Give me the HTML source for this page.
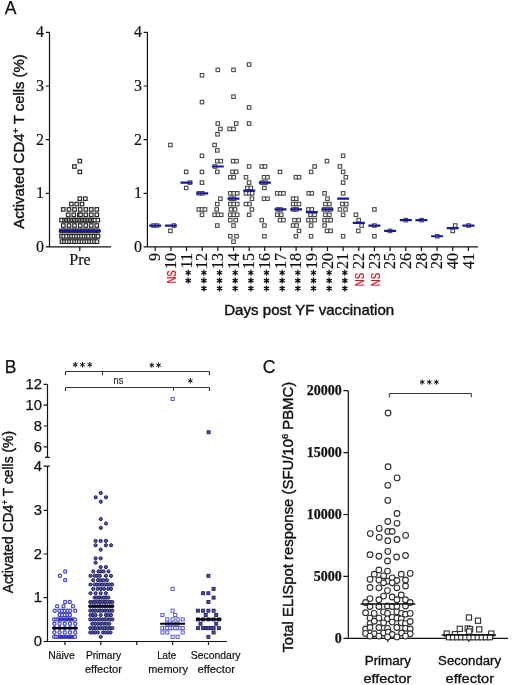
<!DOCTYPE html>
<html><head><meta charset="utf-8"><style>
html,body{margin:0;padding:0;background:#fff;}
svg{display:block;will-change:transform;}
text{font-family:"Liberation Sans",sans-serif;fill:#111;stroke:#111;stroke-width:0.25;}
.tA{font-family:"Liberation Serif",serif;font-size:16px;fill:#111;stroke:#111;stroke-width:0.2;}
.tB{font-size:14.8px;fill:#111;}
.tC{font-family:"Liberation Serif",serif;font-weight:bold;font-size:14px;fill:#111;}
.pl{font-size:17.5px;}
.lab{font-size:14.5px;stroke-width:0.4;}
.catB{font-size:10.9px;fill:#111;stroke-width:0.2;}
.catC{font-size:13.6px;fill:#111;stroke-width:0.35;}
.ns{font-size:12.6px;fill:#d81e24;stroke:#d81e24;stroke-width:0.35;}
.nsb{font-size:11px;fill:#222;stroke-width:0.15;}
.ax{fill:none;stroke:#111;stroke-width:1.2;}
.br{fill:none;stroke:#333;stroke-width:1.0;}
.st{fill:none;stroke:#111;stroke-width:1.3;}
.st2{fill:none;stroke:#111;stroke-width:1.0;}
.sl{fill:#fff;stroke:#2a2a2a;stroke-width:1.2;}
.sr{fill:#fff;stroke:#484848;stroke-width:1.1;}
.mb{fill:none;stroke:#18189a;stroke-width:2.2;}
.mk{fill:none;stroke:#000;stroke-width:2.1;}
.mc{fill:none;stroke:#111;stroke-width:1.5;}
.cn{fill:#fff;stroke:#4040c8;stroke-width:1.2;}
.cp{fill:#5656b6;stroke:#1e1e58;stroke-width:1.0;}
.sn{fill:#fff;stroke:#5a5ad0;stroke-width:1.0;}
.sp{fill:#5050b4;stroke:#1e1e5c;stroke-width:0.9;}
.cc{fill:#fff;stroke:#2e2e2e;stroke-width:1.1;}
.sc{fill:#fff;stroke:#2e2e2e;stroke-width:1.1;}
</style></head>
<body><svg width="512" height="685" viewBox="0 0 512 685">
<path d="M49.5 32.3V247M45.8 32.3H49.5M45.8 86H49.5M45.8 139.6H49.5M45.8 193.3H49.5M45.8 246.9H111M79.8 247V251" class="ax"/>
<text x="44" y="37.1" class="tA" text-anchor="end">4</text>
<text x="44" y="90.8" class="tA" text-anchor="end">3</text>
<text x="44" y="144.5" class="tA" text-anchor="end">2</text>
<text x="44" y="198.1" class="tA" text-anchor="end">1</text>
<text x="44" y="251.8" class="tA" text-anchor="end">0</text>
<text x="80" y="265.3" class="tA" text-anchor="middle">Pre</text>
<rect x="78.05" y="159.38" width="3.50" height="3.50" class="sl"/>
<rect x="72.65" y="164.75" width="3.50" height="3.50" class="sl"/>
<rect x="78.05" y="170.11" width="3.50" height="3.50" class="sl"/>
<rect x="78.05" y="196.95" width="3.50" height="3.50" class="sl"/>
<rect x="83.55" y="196.95" width="3.50" height="3.50" class="sl"/>
<rect x="69.55" y="202.31" width="3.50" height="3.50" class="sl"/>
<rect x="74.95" y="202.31" width="3.50" height="3.50" class="sl"/>
<rect x="80.25" y="202.31" width="3.50" height="3.50" class="sl"/>
<rect x="61.55" y="207.68" width="3.50" height="3.50" class="sl"/>
<rect x="67.25" y="207.68" width="3.50" height="3.50" class="sl"/>
<rect x="72.75" y="207.68" width="3.50" height="3.50" class="sl"/>
<rect x="78.45" y="207.68" width="3.50" height="3.50" class="sl"/>
<rect x="84.05" y="207.68" width="3.50" height="3.50" class="sl"/>
<rect x="89.55" y="207.68" width="3.50" height="3.50" class="sl"/>
<rect x="95.05" y="207.68" width="3.50" height="3.50" class="sl"/>
<rect x="66.45" y="213.05" width="3.50" height="3.50" class="sl"/>
<rect x="72.00" y="213.05" width="3.50" height="3.50" class="sl"/>
<rect x="77.65" y="213.05" width="3.50" height="3.50" class="sl"/>
<rect x="78.75" y="213.05" width="3.50" height="3.50" class="sl"/>
<rect x="84.05" y="213.05" width="3.50" height="3.50" class="sl"/>
<rect x="89.55" y="213.05" width="3.50" height="3.50" class="sl"/>
<rect x="95.05" y="213.05" width="3.50" height="3.50" class="sl"/>
<rect x="59.75" y="218.41" width="3.50" height="3.50" class="sl"/>
<rect x="62.75" y="218.41" width="3.50" height="3.50" class="sl"/>
<rect x="64.35" y="218.41" width="3.50" height="3.50" class="sl"/>
<rect x="65.95" y="218.41" width="3.50" height="3.50" class="sl"/>
<rect x="67.55" y="218.41" width="3.50" height="3.50" class="sl"/>
<rect x="69.15" y="218.41" width="3.50" height="3.50" class="sl"/>
<rect x="70.75" y="218.41" width="3.50" height="3.50" class="sl"/>
<rect x="72.35" y="218.41" width="3.50" height="3.50" class="sl"/>
<rect x="73.95" y="218.41" width="3.50" height="3.50" class="sl"/>
<rect x="75.55" y="218.41" width="3.50" height="3.50" class="sl"/>
<rect x="77.15" y="218.41" width="3.50" height="3.50" class="sl"/>
<rect x="78.75" y="218.41" width="3.50" height="3.50" class="sl"/>
<rect x="80.35" y="218.41" width="3.50" height="3.50" class="sl"/>
<rect x="81.95" y="218.41" width="3.50" height="3.50" class="sl"/>
<rect x="83.55" y="218.41" width="3.50" height="3.50" class="sl"/>
<rect x="85.15" y="218.41" width="3.50" height="3.50" class="sl"/>
<rect x="86.75" y="218.41" width="3.50" height="3.50" class="sl"/>
<rect x="88.35" y="218.41" width="3.50" height="3.50" class="sl"/>
<rect x="89.95" y="218.41" width="3.50" height="3.50" class="sl"/>
<rect x="91.55" y="218.41" width="3.50" height="3.50" class="sl"/>
<rect x="93.15" y="218.41" width="3.50" height="3.50" class="sl"/>
<rect x="96.05" y="218.41" width="3.50" height="3.50" class="sl"/>
<rect x="61.55" y="223.78" width="3.50" height="3.50" class="sl"/>
<rect x="67.25" y="223.78" width="3.50" height="3.50" class="sl"/>
<rect x="72.75" y="223.78" width="3.50" height="3.50" class="sl"/>
<rect x="78.45" y="223.78" width="3.50" height="3.50" class="sl"/>
<rect x="84.05" y="223.78" width="3.50" height="3.50" class="sl"/>
<rect x="89.55" y="223.78" width="3.50" height="3.50" class="sl"/>
<rect x="95.05" y="223.78" width="3.50" height="3.50" class="sl"/>
<rect x="59.75" y="229.15" width="3.50" height="3.50" class="sl"/>
<rect x="62.35" y="229.15" width="3.50" height="3.50" class="sl"/>
<rect x="64.95" y="229.15" width="3.50" height="3.50" class="sl"/>
<rect x="67.55" y="229.15" width="3.50" height="3.50" class="sl"/>
<rect x="70.15" y="229.15" width="3.50" height="3.50" class="sl"/>
<rect x="72.75" y="229.15" width="3.50" height="3.50" class="sl"/>
<rect x="75.35" y="229.15" width="3.50" height="3.50" class="sl"/>
<rect x="77.95" y="229.15" width="3.50" height="3.50" class="sl"/>
<rect x="80.55" y="229.15" width="3.50" height="3.50" class="sl"/>
<rect x="83.15" y="229.15" width="3.50" height="3.50" class="sl"/>
<rect x="85.75" y="229.15" width="3.50" height="3.50" class="sl"/>
<rect x="88.35" y="229.15" width="3.50" height="3.50" class="sl"/>
<rect x="90.95" y="229.15" width="3.50" height="3.50" class="sl"/>
<rect x="93.55" y="229.15" width="3.50" height="3.50" class="sl"/>
<rect x="96.15" y="229.15" width="3.50" height="3.50" class="sl"/>
<rect x="59.75" y="234.52" width="3.50" height="3.50" class="sl"/>
<rect x="62.05" y="234.52" width="3.50" height="3.50" class="sl"/>
<rect x="64.75" y="234.52" width="3.50" height="3.50" class="sl"/>
<rect x="67.75" y="234.52" width="3.50" height="3.50" class="sl"/>
<rect x="69.75" y="234.52" width="3.50" height="3.50" class="sl"/>
<rect x="72.25" y="234.52" width="3.50" height="3.50" class="sl"/>
<rect x="74.75" y="234.52" width="3.50" height="3.50" class="sl"/>
<rect x="77.25" y="234.52" width="3.50" height="3.50" class="sl"/>
<rect x="79.75" y="234.52" width="3.50" height="3.50" class="sl"/>
<rect x="82.25" y="234.52" width="3.50" height="3.50" class="sl"/>
<rect x="84.75" y="234.52" width="3.50" height="3.50" class="sl"/>
<rect x="86.75" y="234.52" width="3.50" height="3.50" class="sl"/>
<rect x="89.75" y="234.52" width="3.50" height="3.50" class="sl"/>
<rect x="92.25" y="234.52" width="3.50" height="3.50" class="sl"/>
<rect x="94.75" y="234.52" width="3.50" height="3.50" class="sl"/>
<rect x="96.25" y="234.52" width="3.50" height="3.50" class="sl"/>
<rect x="60.25" y="239.88" width="3.50" height="3.50" class="sl"/>
<rect x="62.75" y="239.88" width="3.50" height="3.50" class="sl"/>
<rect x="65.25" y="239.88" width="3.50" height="3.50" class="sl"/>
<rect x="67.75" y="239.88" width="3.50" height="3.50" class="sl"/>
<rect x="70.25" y="239.88" width="3.50" height="3.50" class="sl"/>
<rect x="72.75" y="239.88" width="3.50" height="3.50" class="sl"/>
<rect x="75.25" y="239.88" width="3.50" height="3.50" class="sl"/>
<rect x="77.75" y="239.88" width="3.50" height="3.50" class="sl"/>
<rect x="80.25" y="239.88" width="3.50" height="3.50" class="sl"/>
<rect x="82.75" y="239.88" width="3.50" height="3.50" class="sl"/>
<rect x="85.25" y="239.88" width="3.50" height="3.50" class="sl"/>
<rect x="87.75" y="239.88" width="3.50" height="3.50" class="sl"/>
<rect x="90.25" y="239.88" width="3.50" height="3.50" class="sl"/>
<rect x="92.75" y="239.88" width="3.50" height="3.50" class="sl"/>
<rect x="95.25" y="239.88" width="3.50" height="3.50" class="sl"/>
<path d="M58.8 230.90H100.9" class="mb"/>
<path d="M147.4 32.3V247M143.6 32.3H147.4M143.6 86H147.4M143.6 139.6H147.4M143.6 193.3H147.4M143.6 246.9H478M155.2 247V251M170.9 247V251M186.5 247V251M202.2 247V251M217.8 247V251M233.5 247V251M249.2 247V251M264.8 247V251M280.5 247V251M296.1 247V251M311.8 247V251M327.5 247V251M343.1 247V251M358.8 247V251M374.4 247V251M390.1 247V251M405.8 247V251M421.4 247V251M437.1 247V251M452.7 247V251M468.4 247V251" class="ax"/>
<text x="142" y="37.1" class="tA" text-anchor="end">4</text>
<text x="142" y="90.8" class="tA" text-anchor="end">3</text>
<text x="142" y="144.5" class="tA" text-anchor="end">2</text>
<text x="142" y="198.1" class="tA" text-anchor="end">1</text>
<text x="142" y="251.8" class="tA" text-anchor="end">0</text>
<text transform="translate(160.4 253) rotate(-90)" class="tA" text-anchor="end">9</text>
<text transform="translate(176.1 253) rotate(-90)" class="tA" text-anchor="end">10</text>
<text transform="translate(191.7 253) rotate(-90)" class="tA" text-anchor="end">11</text>
<text transform="translate(207.4 253) rotate(-90)" class="tA" text-anchor="end">12</text>
<text transform="translate(223.0 253) rotate(-90)" class="tA" text-anchor="end">13</text>
<text transform="translate(238.7 253) rotate(-90)" class="tA" text-anchor="end">14</text>
<text transform="translate(254.4 253) rotate(-90)" class="tA" text-anchor="end">15</text>
<text transform="translate(270.0 253) rotate(-90)" class="tA" text-anchor="end">16</text>
<text transform="translate(285.7 253) rotate(-90)" class="tA" text-anchor="end">17</text>
<text transform="translate(301.3 253) rotate(-90)" class="tA" text-anchor="end">18</text>
<text transform="translate(317.0 253) rotate(-90)" class="tA" text-anchor="end">19</text>
<text transform="translate(332.7 253) rotate(-90)" class="tA" text-anchor="end">20</text>
<text transform="translate(348.3 253) rotate(-90)" class="tA" text-anchor="end">21</text>
<text transform="translate(364.0 253) rotate(-90)" class="tA" text-anchor="end">22</text>
<text transform="translate(379.6 253) rotate(-90)" class="tA" text-anchor="end">23</text>
<text transform="translate(395.3 253) rotate(-90)" class="tA" text-anchor="end">25</text>
<text transform="translate(411.0 253) rotate(-90)" class="tA" text-anchor="end">26</text>
<text transform="translate(426.6 253) rotate(-90)" class="tA" text-anchor="end">28</text>
<text transform="translate(442.3 253) rotate(-90)" class="tA" text-anchor="end">29</text>
<text transform="translate(457.9 253) rotate(-90)" class="tA" text-anchor="end">40</text>
<text transform="translate(473.6 253) rotate(-90)" class="tA" text-anchor="end">41</text>
<text transform="translate(176.2 283.6) rotate(-90)" class="ns" textLength="13.4" lengthAdjust="spacingAndGlyphs">NS</text>
<text transform="translate(364.1 286.2) rotate(-90)" class="ns" textLength="13.4" lengthAdjust="spacingAndGlyphs">NS</text>
<text transform="translate(379.7 286.2) rotate(-90)" class="ns" textLength="13.4" lengthAdjust="spacingAndGlyphs">NS</text>
<path d="M188.22 269.80L188.22 275.80M185.62 271.30L190.82 274.30M190.82 271.30L185.62 274.30M188.22 277.60L188.22 283.60M185.62 279.10L190.82 282.10M190.82 279.10L185.62 282.10M203.88 269.80L203.88 275.80M201.28 271.30L206.48 274.30M206.48 271.30L201.28 274.30M203.88 277.60L203.88 283.60M201.28 279.10L206.48 282.10M206.48 279.10L201.28 282.10M203.88 285.40L203.88 291.40M201.28 286.90L206.48 289.90M206.48 286.90L201.28 289.90M219.54 269.80L219.54 275.80M216.94 271.30L222.14 274.30M222.14 271.30L216.94 274.30M219.54 277.60L219.54 283.60M216.94 279.10L222.14 282.10M222.14 279.10L216.94 282.10M219.54 285.40L219.54 291.40M216.94 286.90L222.14 289.90M222.14 286.90L216.94 289.90M235.20 269.80L235.20 275.80M232.60 271.30L237.80 274.30M237.80 271.30L232.60 274.30M235.20 277.60L235.20 283.60M232.60 279.10L237.80 282.10M237.80 279.10L232.60 282.10M235.20 285.40L235.20 291.40M232.60 286.90L237.80 289.90M237.80 286.90L232.60 289.90M250.86 269.80L250.86 275.80M248.26 271.30L253.46 274.30M253.46 271.30L248.26 274.30M250.86 277.60L250.86 283.60M248.26 279.10L253.46 282.10M253.46 279.10L248.26 282.10M250.86 285.40L250.86 291.40M248.26 286.90L253.46 289.90M253.46 286.90L248.26 289.90M266.52 269.80L266.52 275.80M263.92 271.30L269.12 274.30M269.12 271.30L263.92 274.30M266.52 277.60L266.52 283.60M263.92 279.10L269.12 282.10M269.12 279.10L263.92 282.10M266.52 285.40L266.52 291.40M263.92 286.90L269.12 289.90M269.12 286.90L263.92 289.90M282.18 269.80L282.18 275.80M279.58 271.30L284.78 274.30M284.78 271.30L279.58 274.30M282.18 277.60L282.18 283.60M279.58 279.10L284.78 282.10M284.78 279.10L279.58 282.10M282.18 285.40L282.18 291.40M279.58 286.90L284.78 289.90M284.78 286.90L279.58 289.90M297.84 269.80L297.84 275.80M295.24 271.30L300.44 274.30M300.44 271.30L295.24 274.30M297.84 277.60L297.84 283.60M295.24 279.10L300.44 282.10M300.44 279.10L295.24 282.10M297.84 285.40L297.84 291.40M295.24 286.90L300.44 289.90M300.44 286.90L295.24 289.90M313.50 269.80L313.50 275.80M310.90 271.30L316.10 274.30M316.10 271.30L310.90 274.30M313.50 277.60L313.50 283.60M310.90 279.10L316.10 282.10M316.10 279.10L310.90 282.10M313.50 285.40L313.50 291.40M310.90 286.90L316.10 289.90M316.10 286.90L310.90 289.90M329.16 269.80L329.16 275.80M326.56 271.30L331.76 274.30M331.76 271.30L326.56 274.30M329.16 277.60L329.16 283.60M326.56 279.10L331.76 282.10M331.76 279.10L326.56 282.10M329.16 285.40L329.16 291.40M326.56 286.90L331.76 289.90M331.76 286.90L326.56 289.90M344.82 269.80L344.82 275.80M342.22 271.30L347.42 274.30M347.42 271.30L342.22 274.30M344.82 277.60L344.82 283.60M342.22 279.10L347.42 282.10M347.42 279.10L342.22 282.10M344.82 285.40L344.82 291.40M342.22 286.90L347.42 289.90M347.42 286.90L342.22 289.90" class="st"/>
<rect x="151.75" y="223.78" width="3.50" height="3.50" class="sr"/>
<rect x="155.25" y="223.78" width="3.50" height="3.50" class="sr"/>
<rect x="168.65" y="143.28" width="3.50" height="3.50" class="sr"/>
<rect x="172.15" y="223.78" width="3.50" height="3.50" class="sr"/>
<rect x="168.65" y="229.15" width="3.50" height="3.50" class="sr"/>
<rect x="184.45" y="170.11" width="3.50" height="3.50" class="sr"/>
<rect x="188.25" y="180.85" width="3.50" height="3.50" class="sr"/>
<rect x="184.45" y="186.21" width="3.50" height="3.50" class="sr"/>
<rect x="200.25" y="73.51" width="3.50" height="3.50" class="sr"/>
<rect x="200.25" y="100.34" width="3.50" height="3.50" class="sr"/>
<rect x="200.25" y="154.01" width="3.50" height="3.50" class="sr"/>
<rect x="200.25" y="170.11" width="3.50" height="3.50" class="sr"/>
<rect x="200.25" y="180.85" width="3.50" height="3.50" class="sr"/>
<rect x="197.15" y="191.58" width="3.50" height="3.50" class="sr"/>
<rect x="200.55" y="191.58" width="3.50" height="3.50" class="sr"/>
<rect x="197.15" y="207.68" width="3.50" height="3.50" class="sr"/>
<rect x="200.25" y="207.68" width="3.50" height="3.50" class="sr"/>
<rect x="203.25" y="207.68" width="3.50" height="3.50" class="sr"/>
<rect x="200.25" y="213.05" width="3.50" height="3.50" class="sr"/>
<rect x="216.05" y="68.14" width="3.50" height="3.50" class="sr"/>
<rect x="216.05" y="121.81" width="3.50" height="3.50" class="sr"/>
<rect x="218.65" y="127.18" width="3.50" height="3.50" class="sr"/>
<rect x="215.75" y="132.54" width="3.50" height="3.50" class="sr"/>
<rect x="212.85" y="143.28" width="3.50" height="3.50" class="sr"/>
<rect x="215.55" y="148.64" width="3.50" height="3.50" class="sr"/>
<rect x="215.55" y="159.38" width="3.50" height="3.50" class="sr"/>
<rect x="219.05" y="159.38" width="3.50" height="3.50" class="sr"/>
<rect x="213.25" y="164.75" width="3.50" height="3.50" class="sr"/>
<rect x="215.55" y="170.11" width="3.50" height="3.50" class="sr"/>
<rect x="218.65" y="196.95" width="3.50" height="3.50" class="sr"/>
<rect x="215.55" y="202.31" width="3.50" height="3.50" class="sr"/>
<rect x="214.95" y="207.68" width="3.50" height="3.50" class="sr"/>
<rect x="212.85" y="213.05" width="3.50" height="3.50" class="sr"/>
<rect x="216.25" y="213.05" width="3.50" height="3.50" class="sr"/>
<rect x="219.45" y="213.05" width="3.50" height="3.50" class="sr"/>
<rect x="215.55" y="223.78" width="3.50" height="3.50" class="sr"/>
<rect x="231.75" y="68.14" width="3.50" height="3.50" class="sr"/>
<rect x="231.75" y="94.97" width="3.50" height="3.50" class="sr"/>
<rect x="234.45" y="121.81" width="3.50" height="3.50" class="sr"/>
<rect x="227.85" y="127.18" width="3.50" height="3.50" class="sr"/>
<rect x="231.75" y="127.18" width="3.50" height="3.50" class="sr"/>
<rect x="231.35" y="159.38" width="3.50" height="3.50" class="sr"/>
<rect x="234.75" y="159.38" width="3.50" height="3.50" class="sr"/>
<rect x="230.65" y="170.11" width="3.50" height="3.50" class="sr"/>
<rect x="234.45" y="170.11" width="3.50" height="3.50" class="sr"/>
<rect x="228.55" y="175.48" width="3.50" height="3.50" class="sr"/>
<rect x="232.00" y="175.48" width="3.50" height="3.50" class="sr"/>
<rect x="228.55" y="191.58" width="3.50" height="3.50" class="sr"/>
<rect x="232.00" y="191.58" width="3.50" height="3.50" class="sr"/>
<rect x="235.45" y="191.58" width="3.50" height="3.50" class="sr"/>
<rect x="229.25" y="196.95" width="3.50" height="3.50" class="sr"/>
<rect x="232.25" y="196.95" width="3.50" height="3.50" class="sr"/>
<rect x="228.55" y="202.31" width="3.50" height="3.50" class="sr"/>
<rect x="232.00" y="202.31" width="3.50" height="3.50" class="sr"/>
<rect x="235.45" y="202.31" width="3.50" height="3.50" class="sr"/>
<rect x="229.25" y="207.68" width="3.50" height="3.50" class="sr"/>
<rect x="233.35" y="207.68" width="3.50" height="3.50" class="sr"/>
<rect x="228.55" y="213.05" width="3.50" height="3.50" class="sr"/>
<rect x="232.00" y="213.05" width="3.50" height="3.50" class="sr"/>
<rect x="235.45" y="213.05" width="3.50" height="3.50" class="sr"/>
<rect x="228.55" y="218.41" width="3.50" height="3.50" class="sr"/>
<rect x="234.05" y="218.41" width="3.50" height="3.50" class="sr"/>
<rect x="231.75" y="223.78" width="3.50" height="3.50" class="sr"/>
<rect x="228.55" y="234.52" width="3.50" height="3.50" class="sr"/>
<rect x="234.75" y="234.52" width="3.50" height="3.50" class="sr"/>
<rect x="231.75" y="239.88" width="3.50" height="3.50" class="sr"/>
<rect x="247.35" y="62.77" width="3.50" height="3.50" class="sr"/>
<rect x="247.35" y="105.71" width="3.50" height="3.50" class="sr"/>
<rect x="247.35" y="121.81" width="3.50" height="3.50" class="sr"/>
<rect x="247.35" y="164.75" width="3.50" height="3.50" class="sr"/>
<rect x="244.25" y="175.48" width="3.50" height="3.50" class="sr"/>
<rect x="247.35" y="180.85" width="3.50" height="3.50" class="sr"/>
<rect x="245.65" y="186.21" width="3.50" height="3.50" class="sr"/>
<rect x="249.05" y="186.21" width="3.50" height="3.50" class="sr"/>
<rect x="244.25" y="191.58" width="3.50" height="3.50" class="sr"/>
<rect x="247.75" y="191.58" width="3.50" height="3.50" class="sr"/>
<rect x="250.45" y="191.58" width="3.50" height="3.50" class="sr"/>
<rect x="250.15" y="196.95" width="3.50" height="3.50" class="sr"/>
<rect x="244.25" y="202.31" width="3.50" height="3.50" class="sr"/>
<rect x="247.75" y="202.31" width="3.50" height="3.50" class="sr"/>
<rect x="250.05" y="207.68" width="3.50" height="3.50" class="sr"/>
<rect x="247.35" y="213.05" width="3.50" height="3.50" class="sr"/>
<rect x="259.95" y="164.75" width="3.50" height="3.50" class="sr"/>
<rect x="263.25" y="164.75" width="3.50" height="3.50" class="sr"/>
<rect x="262.25" y="175.48" width="3.50" height="3.50" class="sr"/>
<rect x="265.75" y="175.48" width="3.50" height="3.50" class="sr"/>
<rect x="260.25" y="180.85" width="3.50" height="3.50" class="sr"/>
<rect x="263.75" y="180.85" width="3.50" height="3.50" class="sr"/>
<rect x="262.65" y="186.21" width="3.50" height="3.50" class="sr"/>
<rect x="262.25" y="196.95" width="3.50" height="3.50" class="sr"/>
<rect x="265.75" y="196.95" width="3.50" height="3.50" class="sr"/>
<rect x="259.95" y="218.41" width="3.50" height="3.50" class="sr"/>
<rect x="262.65" y="223.78" width="3.50" height="3.50" class="sr"/>
<rect x="262.65" y="234.52" width="3.50" height="3.50" class="sr"/>
<rect x="278.25" y="170.11" width="3.50" height="3.50" class="sr"/>
<rect x="275.45" y="191.58" width="3.50" height="3.50" class="sr"/>
<rect x="278.65" y="191.58" width="3.50" height="3.50" class="sr"/>
<rect x="281.65" y="191.58" width="3.50" height="3.50" class="sr"/>
<rect x="276.15" y="207.68" width="3.50" height="3.50" class="sr"/>
<rect x="278.85" y="207.68" width="3.50" height="3.50" class="sr"/>
<rect x="275.45" y="213.05" width="3.50" height="3.50" class="sr"/>
<rect x="279.55" y="213.05" width="3.50" height="3.50" class="sr"/>
<rect x="278.25" y="218.41" width="3.50" height="3.50" class="sr"/>
<rect x="281.65" y="218.41" width="3.50" height="3.50" class="sr"/>
<rect x="294.15" y="175.48" width="3.50" height="3.50" class="sr"/>
<rect x="297.25" y="175.48" width="3.50" height="3.50" class="sr"/>
<rect x="291.35" y="196.95" width="3.50" height="3.50" class="sr"/>
<rect x="294.55" y="196.95" width="3.50" height="3.50" class="sr"/>
<rect x="291.35" y="202.31" width="3.50" height="3.50" class="sr"/>
<rect x="294.55" y="202.31" width="3.50" height="3.50" class="sr"/>
<rect x="297.25" y="202.31" width="3.50" height="3.50" class="sr"/>
<rect x="291.75" y="207.68" width="3.50" height="3.50" class="sr"/>
<rect x="294.75" y="207.68" width="3.50" height="3.50" class="sr"/>
<rect x="292.75" y="218.41" width="3.50" height="3.50" class="sr"/>
<rect x="296.95" y="218.41" width="3.50" height="3.50" class="sr"/>
<rect x="291.35" y="223.78" width="3.50" height="3.50" class="sr"/>
<rect x="294.85" y="223.78" width="3.50" height="3.50" class="sr"/>
<rect x="297.25" y="229.15" width="3.50" height="3.50" class="sr"/>
<rect x="294.15" y="234.52" width="3.50" height="3.50" class="sr"/>
<rect x="312.85" y="164.75" width="3.50" height="3.50" class="sr"/>
<rect x="309.35" y="170.11" width="3.50" height="3.50" class="sr"/>
<rect x="307.05" y="191.58" width="3.50" height="3.50" class="sr"/>
<rect x="310.05" y="191.58" width="3.50" height="3.50" class="sr"/>
<rect x="306.65" y="207.68" width="3.50" height="3.50" class="sr"/>
<rect x="310.05" y="207.68" width="3.50" height="3.50" class="sr"/>
<rect x="308.65" y="213.05" width="3.50" height="3.50" class="sr"/>
<rect x="312.85" y="213.05" width="3.50" height="3.50" class="sr"/>
<rect x="306.65" y="218.41" width="3.50" height="3.50" class="sr"/>
<rect x="309.75" y="218.41" width="3.50" height="3.50" class="sr"/>
<rect x="312.85" y="218.41" width="3.50" height="3.50" class="sr"/>
<rect x="309.35" y="223.78" width="3.50" height="3.50" class="sr"/>
<rect x="309.35" y="234.52" width="3.50" height="3.50" class="sr"/>
<rect x="325.25" y="159.38" width="3.50" height="3.50" class="sr"/>
<rect x="322.85" y="191.58" width="3.50" height="3.50" class="sr"/>
<rect x="325.75" y="196.95" width="3.50" height="3.50" class="sr"/>
<rect x="323.65" y="202.31" width="3.50" height="3.50" class="sr"/>
<rect x="327.65" y="202.31" width="3.50" height="3.50" class="sr"/>
<rect x="322.25" y="207.68" width="3.50" height="3.50" class="sr"/>
<rect x="325.75" y="207.68" width="3.50" height="3.50" class="sr"/>
<rect x="328.75" y="207.68" width="3.50" height="3.50" class="sr"/>
<rect x="323.65" y="213.05" width="3.50" height="3.50" class="sr"/>
<rect x="327.65" y="213.05" width="3.50" height="3.50" class="sr"/>
<rect x="322.85" y="218.41" width="3.50" height="3.50" class="sr"/>
<rect x="326.05" y="218.41" width="3.50" height="3.50" class="sr"/>
<rect x="328.95" y="218.41" width="3.50" height="3.50" class="sr"/>
<rect x="322.85" y="223.78" width="3.50" height="3.50" class="sr"/>
<rect x="325.25" y="229.15" width="3.50" height="3.50" class="sr"/>
<rect x="328.95" y="229.15" width="3.50" height="3.50" class="sr"/>
<rect x="341.35" y="154.01" width="3.50" height="3.50" class="sr"/>
<rect x="338.15" y="164.75" width="3.50" height="3.50" class="sr"/>
<rect x="341.35" y="170.11" width="3.50" height="3.50" class="sr"/>
<rect x="344.05" y="175.48" width="3.50" height="3.50" class="sr"/>
<rect x="341.35" y="180.85" width="3.50" height="3.50" class="sr"/>
<rect x="341.35" y="191.58" width="3.50" height="3.50" class="sr"/>
<rect x="340.55" y="202.31" width="3.50" height="3.50" class="sr"/>
<rect x="344.55" y="202.31" width="3.50" height="3.50" class="sr"/>
<rect x="338.15" y="207.68" width="3.50" height="3.50" class="sr"/>
<rect x="343.75" y="207.68" width="3.50" height="3.50" class="sr"/>
<rect x="341.35" y="213.05" width="3.50" height="3.50" class="sr"/>
<rect x="341.35" y="234.52" width="3.50" height="3.50" class="sr"/>
<rect x="354.15" y="213.05" width="3.50" height="3.50" class="sr"/>
<rect x="356.95" y="218.41" width="3.50" height="3.50" class="sr"/>
<rect x="359.85" y="223.78" width="3.50" height="3.50" class="sr"/>
<rect x="356.55" y="229.15" width="3.50" height="3.50" class="sr"/>
<rect x="372.65" y="207.68" width="3.50" height="3.50" class="sr"/>
<rect x="372.65" y="223.78" width="3.50" height="3.50" class="sr"/>
<rect x="372.65" y="234.52" width="3.50" height="3.50" class="sr"/>
<rect x="388.25" y="229.15" width="3.50" height="3.50" class="sr"/>
<rect x="404.05" y="218.41" width="3.50" height="3.50" class="sr"/>
<rect x="419.75" y="218.41" width="3.50" height="3.50" class="sr"/>
<rect x="435.55" y="234.52" width="3.50" height="3.50" class="sr"/>
<rect x="453.45" y="223.78" width="3.50" height="3.50" class="sr"/>
<rect x="450.95" y="229.15" width="3.50" height="3.50" class="sr"/>
<rect x="466.85" y="223.78" width="3.50" height="3.50" class="sr"/>
<path d="M149.2 225.53H161.2M164.9 225.53H176.9M180.5 182.60H192.5M196.2 193.33H208.2M211.8 166.50H223.8M227.5 198.70H239.5M243.2 190.65H255.2M258.8 182.60H270.8M274.5 209.43H286.5M290.1 209.43H302.1M305.8 212.11H317.8M321.5 209.43H333.5M337.1 198.70H349.1M352.8 222.85H364.8M368.4 225.53H380.4M384.1 230.90H396.1M399.8 220.16H411.8M415.4 220.16H427.4M431.1 236.27H443.1M446.7 228.22H458.7M462.4 225.53H474.4" class="mb"/>
<text x="4.8" y="14.0" class="pl">A</text>
<text x="224.2" y="315.3" class="lab" textLength="170" lengthAdjust="spacingAndGlyphs">Days post YF vaccination</text>
<text transform="translate(24.4 228.8) rotate(-90)" class="lab" textLength="174.6" lengthAdjust="spacingAndGlyphs">Activated CD4<tspan dy="-5" font-size="9">+</tspan><tspan dy="5"> T cells (%)</tspan></text>
<path d="M47.5 384.4V457.4M45 457.4H49.8M47.5 466.2V641.5M43.6 466.2H49.8M43.6 384.4H47.5M43.6 405.2H47.5M43.6 426.0H47.5M43.6 446.9H47.5M43.6 510.4H47.5M43.6 554.0H47.5M43.6 597.6H47.5M43.4 641.5H226.9M65.0 641.2V645M100.8 641.2V645M136.8 641.2V645M172.6 641.2V645M208.5 641.2V645" class="ax"/>
<text x="41.9" y="389.0" class="tB" text-anchor="end">12</text>
<text x="41.9" y="409.8" class="tB" text-anchor="end">10</text>
<text x="41.9" y="430.6" class="tB" text-anchor="end">8</text>
<text x="41.9" y="451.5" class="tB" text-anchor="end">6</text>
<text x="41.9" y="471.4" class="tB" text-anchor="end">4</text>
<text x="41.9" y="515.0" class="tB" text-anchor="end">3</text>
<text x="41.9" y="558.6" class="tB" text-anchor="end">2</text>
<text x="41.9" y="602.2" class="tB" text-anchor="end">1</text>
<text x="41.9" y="645.8" class="tB" text-anchor="end">0</text>
<circle cx="65.20" cy="571.44" r="1.6" class="cn"/>
<circle cx="59.90" cy="575.80" r="1.6" class="cn"/>
<circle cx="65.20" cy="580.16" r="1.6" class="cn"/>
<circle cx="65.10" cy="601.96" r="1.6" class="cn"/>
<circle cx="69.80" cy="601.96" r="1.6" class="cn"/>
<circle cx="57.10" cy="606.32" r="1.6" class="cn"/>
<circle cx="63.50" cy="606.32" r="1.6" class="cn"/>
<circle cx="72.90" cy="606.32" r="1.6" class="cn"/>
<circle cx="54.70" cy="610.68" r="1.6" class="cn"/>
<circle cx="59.40" cy="610.68" r="1.6" class="cn"/>
<circle cx="62.10" cy="610.68" r="1.6" class="cn"/>
<circle cx="64.80" cy="610.68" r="1.6" class="cn"/>
<circle cx="67.50" cy="610.68" r="1.6" class="cn"/>
<circle cx="70.20" cy="610.68" r="1.6" class="cn"/>
<circle cx="75.20" cy="610.68" r="1.6" class="cn"/>
<circle cx="59.70" cy="615.04" r="1.6" class="cn"/>
<circle cx="62.30" cy="615.04" r="1.6" class="cn"/>
<circle cx="64.90" cy="615.04" r="1.6" class="cn"/>
<circle cx="67.40" cy="615.04" r="1.6" class="cn"/>
<circle cx="69.90" cy="615.04" r="1.6" class="cn"/>
<circle cx="54.20" cy="619.40" r="1.6" class="cn"/>
<circle cx="56.28" cy="619.40" r="1.6" class="cn"/>
<circle cx="58.36" cy="619.40" r="1.6" class="cn"/>
<circle cx="60.44" cy="619.40" r="1.6" class="cn"/>
<circle cx="62.52" cy="619.40" r="1.6" class="cn"/>
<circle cx="64.60" cy="619.40" r="1.6" class="cn"/>
<circle cx="66.68" cy="619.40" r="1.6" class="cn"/>
<circle cx="68.76" cy="619.40" r="1.6" class="cn"/>
<circle cx="70.84" cy="619.40" r="1.6" class="cn"/>
<circle cx="72.92" cy="619.40" r="1.6" class="cn"/>
<circle cx="75.00" cy="619.40" r="1.6" class="cn"/>
<circle cx="54.40" cy="623.76" r="1.6" class="cn"/>
<circle cx="59.60" cy="623.76" r="1.6" class="cn"/>
<circle cx="64.80" cy="623.76" r="1.6" class="cn"/>
<circle cx="70.00" cy="623.76" r="1.6" class="cn"/>
<circle cx="75.20" cy="623.76" r="1.6" class="cn"/>
<circle cx="54.40" cy="628.12" r="1.6" class="cn"/>
<circle cx="59.60" cy="628.12" r="1.6" class="cn"/>
<circle cx="64.80" cy="628.12" r="1.6" class="cn"/>
<circle cx="70.00" cy="628.12" r="1.6" class="cn"/>
<circle cx="75.20" cy="628.12" r="1.6" class="cn"/>
<circle cx="54.40" cy="632.48" r="1.6" class="cn"/>
<circle cx="59.60" cy="632.48" r="1.6" class="cn"/>
<circle cx="64.80" cy="632.48" r="1.6" class="cn"/>
<circle cx="70.00" cy="632.48" r="1.6" class="cn"/>
<circle cx="75.20" cy="632.48" r="1.6" class="cn"/>
<circle cx="54.20" cy="636.84" r="1.6" class="cn"/>
<circle cx="56.28" cy="636.84" r="1.6" class="cn"/>
<circle cx="58.36" cy="636.84" r="1.6" class="cn"/>
<circle cx="60.44" cy="636.84" r="1.6" class="cn"/>
<circle cx="62.52" cy="636.84" r="1.6" class="cn"/>
<circle cx="64.60" cy="636.84" r="1.6" class="cn"/>
<circle cx="66.68" cy="636.84" r="1.6" class="cn"/>
<circle cx="68.76" cy="636.84" r="1.6" class="cn"/>
<circle cx="70.84" cy="636.84" r="1.6" class="cn"/>
<circle cx="72.92" cy="636.84" r="1.6" class="cn"/>
<circle cx="75.00" cy="636.84" r="1.6" class="cn"/>
<rect x="58" y="618.10" width="15" height="2.6" fill="#3434c4"/>
<rect x="58" y="635.54" width="15" height="2.6" fill="#3434c4"/>
<circle cx="100.80" cy="492.96" r="1.6" class="cp"/>
<circle cx="95.70" cy="497.32" r="1.6" class="cp"/>
<circle cx="106.00" cy="497.32" r="1.6" class="cp"/>
<circle cx="100.80" cy="501.68" r="1.6" class="cp"/>
<circle cx="100.80" cy="519.12" r="1.6" class="cp"/>
<circle cx="106.00" cy="523.48" r="1.6" class="cp"/>
<circle cx="100.80" cy="527.84" r="1.6" class="cp"/>
<circle cx="95.60" cy="540.92" r="1.6" class="cp"/>
<circle cx="100.70" cy="540.92" r="1.6" class="cp"/>
<circle cx="105.90" cy="540.92" r="1.6" class="cp"/>
<circle cx="95.60" cy="545.28" r="1.6" class="cp"/>
<circle cx="105.90" cy="545.28" r="1.6" class="cp"/>
<circle cx="111.10" cy="545.28" r="1.6" class="cp"/>
<circle cx="100.70" cy="549.64" r="1.6" class="cp"/>
<circle cx="95.60" cy="558.36" r="1.6" class="cp"/>
<circle cx="100.70" cy="558.36" r="1.6" class="cp"/>
<circle cx="95.60" cy="562.72" r="1.6" class="cp"/>
<circle cx="100.70" cy="567.08" r="1.6" class="cp"/>
<circle cx="105.90" cy="567.08" r="1.6" class="cp"/>
<circle cx="93.20" cy="571.44" r="1.6" class="cp"/>
<circle cx="98.50" cy="571.44" r="1.6" class="cp"/>
<circle cx="101.00" cy="571.44" r="1.6" class="cp"/>
<circle cx="103.50" cy="571.44" r="1.6" class="cp"/>
<circle cx="108.50" cy="571.44" r="1.6" class="cp"/>
<circle cx="90.50" cy="575.80" r="1.6" class="cp"/>
<circle cx="94.60" cy="575.80" r="1.6" class="cp"/>
<circle cx="97.20" cy="575.80" r="1.6" class="cp"/>
<circle cx="99.80" cy="575.80" r="1.6" class="cp"/>
<circle cx="105.90" cy="575.80" r="1.6" class="cp"/>
<circle cx="111.00" cy="575.80" r="1.6" class="cp"/>
<circle cx="93.20" cy="580.16" r="1.6" class="cp"/>
<circle cx="98.00" cy="580.16" r="1.6" class="cp"/>
<circle cx="100.70" cy="580.16" r="1.6" class="cp"/>
<circle cx="103.40" cy="580.16" r="1.6" class="cp"/>
<circle cx="106.90" cy="580.16" r="1.6" class="cp"/>
<circle cx="90.50" cy="584.52" r="1.6" class="cp"/>
<circle cx="94.60" cy="584.52" r="1.6" class="cp"/>
<circle cx="97.10" cy="584.52" r="1.6" class="cp"/>
<circle cx="99.60" cy="584.52" r="1.6" class="cp"/>
<circle cx="102.10" cy="584.52" r="1.6" class="cp"/>
<circle cx="104.60" cy="584.52" r="1.6" class="cp"/>
<circle cx="107.10" cy="584.52" r="1.6" class="cp"/>
<circle cx="109.60" cy="584.52" r="1.6" class="cp"/>
<circle cx="112.10" cy="584.52" r="1.6" class="cp"/>
<circle cx="93.20" cy="588.88" r="1.6" class="cp"/>
<circle cx="97.60" cy="588.88" r="1.6" class="cp"/>
<circle cx="100.80" cy="588.88" r="1.6" class="cp"/>
<circle cx="104.00" cy="588.88" r="1.6" class="cp"/>
<circle cx="108.30" cy="588.88" r="1.6" class="cp"/>
<circle cx="111.00" cy="588.88" r="1.6" class="cp"/>
<circle cx="90.50" cy="593.24" r="1.6" class="cp"/>
<circle cx="95.60" cy="593.24" r="1.6" class="cp"/>
<circle cx="100.70" cy="593.24" r="1.6" class="cp"/>
<circle cx="105.90" cy="593.24" r="1.6" class="cp"/>
<circle cx="94.60" cy="597.60" r="1.6" class="cp"/>
<circle cx="96.90" cy="597.60" r="1.6" class="cp"/>
<circle cx="99.20" cy="597.60" r="1.6" class="cp"/>
<circle cx="101.50" cy="597.60" r="1.6" class="cp"/>
<circle cx="103.80" cy="597.60" r="1.6" class="cp"/>
<circle cx="106.10" cy="597.60" r="1.6" class="cp"/>
<circle cx="108.40" cy="597.60" r="1.6" class="cp"/>
<circle cx="90.30" cy="601.96" r="1.6" class="cp"/>
<circle cx="92.75" cy="601.96" r="1.6" class="cp"/>
<circle cx="95.20" cy="601.96" r="1.6" class="cp"/>
<circle cx="97.65" cy="601.96" r="1.6" class="cp"/>
<circle cx="100.10" cy="601.96" r="1.6" class="cp"/>
<circle cx="102.55" cy="601.96" r="1.6" class="cp"/>
<circle cx="105.00" cy="601.96" r="1.6" class="cp"/>
<circle cx="107.45" cy="601.96" r="1.6" class="cp"/>
<circle cx="109.90" cy="601.96" r="1.6" class="cp"/>
<circle cx="112.35" cy="601.96" r="1.6" class="cp"/>
<circle cx="90.30" cy="606.32" r="1.6" class="cp"/>
<circle cx="92.75" cy="606.32" r="1.6" class="cp"/>
<circle cx="95.20" cy="606.32" r="1.6" class="cp"/>
<circle cx="97.65" cy="606.32" r="1.6" class="cp"/>
<circle cx="100.10" cy="606.32" r="1.6" class="cp"/>
<circle cx="102.55" cy="606.32" r="1.6" class="cp"/>
<circle cx="105.00" cy="606.32" r="1.6" class="cp"/>
<circle cx="107.45" cy="606.32" r="1.6" class="cp"/>
<circle cx="109.90" cy="606.32" r="1.6" class="cp"/>
<circle cx="112.35" cy="606.32" r="1.6" class="cp"/>
<circle cx="90.30" cy="610.68" r="1.6" class="cp"/>
<circle cx="92.75" cy="610.68" r="1.6" class="cp"/>
<circle cx="95.20" cy="610.68" r="1.6" class="cp"/>
<circle cx="97.65" cy="610.68" r="1.6" class="cp"/>
<circle cx="100.10" cy="610.68" r="1.6" class="cp"/>
<circle cx="102.55" cy="610.68" r="1.6" class="cp"/>
<circle cx="105.00" cy="610.68" r="1.6" class="cp"/>
<circle cx="107.45" cy="610.68" r="1.6" class="cp"/>
<circle cx="109.90" cy="610.68" r="1.6" class="cp"/>
<circle cx="112.35" cy="610.68" r="1.6" class="cp"/>
<circle cx="90.50" cy="615.04" r="1.6" class="cp"/>
<circle cx="93.00" cy="615.04" r="1.6" class="cp"/>
<circle cx="95.60" cy="615.04" r="1.6" class="cp"/>
<circle cx="100.70" cy="615.04" r="1.6" class="cp"/>
<circle cx="105.90" cy="615.04" r="1.6" class="cp"/>
<circle cx="108.50" cy="615.04" r="1.6" class="cp"/>
<circle cx="111.00" cy="615.04" r="1.6" class="cp"/>
<circle cx="90.30" cy="619.40" r="1.6" class="cp"/>
<circle cx="92.75" cy="619.40" r="1.6" class="cp"/>
<circle cx="95.20" cy="619.40" r="1.6" class="cp"/>
<circle cx="97.65" cy="619.40" r="1.6" class="cp"/>
<circle cx="100.10" cy="619.40" r="1.6" class="cp"/>
<circle cx="102.55" cy="619.40" r="1.6" class="cp"/>
<circle cx="105.00" cy="619.40" r="1.6" class="cp"/>
<circle cx="107.45" cy="619.40" r="1.6" class="cp"/>
<circle cx="109.90" cy="619.40" r="1.6" class="cp"/>
<circle cx="112.35" cy="619.40" r="1.6" class="cp"/>
<circle cx="92.20" cy="623.76" r="1.6" class="cp"/>
<circle cx="95.05" cy="623.76" r="1.6" class="cp"/>
<circle cx="97.90" cy="623.76" r="1.6" class="cp"/>
<circle cx="100.75" cy="623.76" r="1.6" class="cp"/>
<circle cx="103.60" cy="623.76" r="1.6" class="cp"/>
<circle cx="106.45" cy="623.76" r="1.6" class="cp"/>
<circle cx="109.30" cy="623.76" r="1.6" class="cp"/>
<circle cx="90.30" cy="628.12" r="1.6" class="cp"/>
<circle cx="92.75" cy="628.12" r="1.6" class="cp"/>
<circle cx="95.20" cy="628.12" r="1.6" class="cp"/>
<circle cx="97.65" cy="628.12" r="1.6" class="cp"/>
<circle cx="100.10" cy="628.12" r="1.6" class="cp"/>
<circle cx="102.55" cy="628.12" r="1.6" class="cp"/>
<circle cx="105.00" cy="628.12" r="1.6" class="cp"/>
<circle cx="107.45" cy="628.12" r="1.6" class="cp"/>
<circle cx="109.90" cy="628.12" r="1.6" class="cp"/>
<circle cx="112.35" cy="628.12" r="1.6" class="cp"/>
<circle cx="90.30" cy="632.48" r="1.6" class="cp"/>
<circle cx="92.80" cy="632.48" r="1.6" class="cp"/>
<circle cx="95.30" cy="632.48" r="1.6" class="cp"/>
<circle cx="97.80" cy="632.48" r="1.6" class="cp"/>
<circle cx="103.00" cy="632.48" r="1.6" class="cp"/>
<circle cx="105.50" cy="632.48" r="1.6" class="cp"/>
<circle cx="108.00" cy="632.48" r="1.6" class="cp"/>
<circle cx="110.50" cy="632.48" r="1.6" class="cp"/>
<circle cx="100.70" cy="636.84" r="1.6" class="cp"/>
<rect x="171.15" y="397.40" width="3.10" height="3.10" class="sn"/>
<rect x="171.05" y="587.33" width="3.10" height="3.10" class="sn"/>
<rect x="171.05" y="609.13" width="3.10" height="3.10" class="sn"/>
<rect x="160.85" y="613.49" width="3.10" height="3.10" class="sn"/>
<rect x="173.65" y="613.49" width="3.10" height="3.10" class="sn"/>
<rect x="165.75" y="617.85" width="3.10" height="3.10" class="sn"/>
<rect x="171.05" y="617.85" width="3.10" height="3.10" class="sn"/>
<rect x="176.05" y="617.85" width="3.10" height="3.10" class="sn"/>
<rect x="181.15" y="617.85" width="3.10" height="3.10" class="sn"/>
<rect x="165.45" y="622.21" width="3.10" height="3.10" class="sn"/>
<rect x="168.95" y="622.21" width="3.10" height="3.10" class="sn"/>
<rect x="172.45" y="622.21" width="3.10" height="3.10" class="sn"/>
<rect x="175.95" y="622.21" width="3.10" height="3.10" class="sn"/>
<rect x="160.85" y="626.57" width="3.10" height="3.10" class="sn"/>
<rect x="163.45" y="626.57" width="3.10" height="3.10" class="sn"/>
<rect x="165.75" y="626.57" width="3.10" height="3.10" class="sn"/>
<rect x="168.45" y="626.57" width="3.10" height="3.10" class="sn"/>
<rect x="171.05" y="626.57" width="3.10" height="3.10" class="sn"/>
<rect x="173.45" y="626.57" width="3.10" height="3.10" class="sn"/>
<rect x="176.05" y="626.57" width="3.10" height="3.10" class="sn"/>
<rect x="178.65" y="626.57" width="3.10" height="3.10" class="sn"/>
<rect x="181.15" y="626.57" width="3.10" height="3.10" class="sn"/>
<rect x="160.85" y="630.93" width="3.10" height="3.10" class="sn"/>
<rect x="165.75" y="630.93" width="3.10" height="3.10" class="sn"/>
<rect x="181.15" y="630.93" width="3.10" height="3.10" class="sn"/>
<rect x="171.05" y="635.29" width="3.10" height="3.10" class="sn"/>
<rect x="176.05" y="635.29" width="3.10" height="3.10" class="sn"/>
<rect x="207.10" y="430.79" width="3.00" height="3.00" class="sp"/>
<rect x="206.90" y="574.30" width="3.00" height="3.00" class="sp"/>
<rect x="212.10" y="587.38" width="3.00" height="3.00" class="sp"/>
<rect x="201.60" y="591.74" width="3.00" height="3.00" class="sp"/>
<rect x="206.90" y="591.74" width="3.00" height="3.00" class="sp"/>
<rect x="212.10" y="596.10" width="3.00" height="3.00" class="sp"/>
<rect x="206.90" y="600.46" width="3.00" height="3.00" class="sp"/>
<rect x="196.40" y="609.18" width="3.00" height="3.00" class="sp"/>
<rect x="201.60" y="609.18" width="3.00" height="3.00" class="sp"/>
<rect x="206.90" y="609.18" width="3.00" height="3.00" class="sp"/>
<rect x="212.10" y="609.18" width="3.00" height="3.00" class="sp"/>
<rect x="204.20" y="613.54" width="3.00" height="3.00" class="sp"/>
<rect x="214.70" y="613.54" width="3.00" height="3.00" class="sp"/>
<rect x="196.40" y="617.90" width="3.00" height="3.00" class="sp"/>
<rect x="201.60" y="617.90" width="3.00" height="3.00" class="sp"/>
<rect x="206.90" y="617.90" width="3.00" height="3.00" class="sp"/>
<rect x="212.10" y="617.90" width="3.00" height="3.00" class="sp"/>
<rect x="217.40" y="617.90" width="3.00" height="3.00" class="sp"/>
<rect x="199.00" y="622.26" width="3.00" height="3.00" class="sp"/>
<rect x="214.70" y="622.26" width="3.00" height="3.00" class="sp"/>
<rect x="196.40" y="626.62" width="3.00" height="3.00" class="sp"/>
<rect x="201.60" y="626.62" width="3.00" height="3.00" class="sp"/>
<rect x="204.20" y="626.62" width="3.00" height="3.00" class="sp"/>
<rect x="206.90" y="626.62" width="3.00" height="3.00" class="sp"/>
<rect x="209.50" y="626.62" width="3.00" height="3.00" class="sp"/>
<rect x="212.10" y="626.62" width="3.00" height="3.00" class="sp"/>
<rect x="217.40" y="626.62" width="3.00" height="3.00" class="sp"/>
<rect x="212.10" y="630.98" width="3.00" height="3.00" class="sp"/>
<rect x="206.90" y="635.34" width="3.00" height="3.00" class="sp"/>
<path d="M52.4 628.12H77.6M88.6 606.32H113.7M160.1 623.76H185.1M195.9 619.40H221.5" class="mk"/>
<path d="M65.5 375.3V371.5H209.5V375.3M102.5 371.5V375.3M65.5 391V387.5H209.5V391M173.5 387.5V390.8" class="br"/>
<path d="M75.30 362.00L75.30 367.40M72.96 363.35L77.64 366.05M77.64 363.35L72.96 366.05M82.50 362.00L82.50 367.40M80.16 363.35L84.84 366.05M84.84 363.35L80.16 366.05M89.80 362.00L89.80 367.40M87.46 363.35L92.14 366.05M92.14 363.35L87.46 366.05M151.80 362.60L151.80 367.80M149.55 363.90L154.05 366.50M154.05 363.90L149.55 366.50M158.60 362.60L158.60 367.80M156.35 363.90L160.85 366.50M160.85 363.90L156.35 366.50M190.30 378.20L190.30 383.40M188.05 379.50L192.55 382.10M192.55 379.50L188.05 382.10" class="st2"/>
<text x="113.6" y="383.6" class="nsb" textLength="9.7" lengthAdjust="spacingAndGlyphs">ns</text>
<text x="4.7" y="372.6" class="pl">B</text>
<text transform="translate(13.2 593.3) rotate(-90)" class="lab" textLength="162.3" lengthAdjust="spacingAndGlyphs">Activated CD4<tspan dy="-5" font-size="9">+</tspan><tspan dy="5"> T cells (%)</tspan></text>
<text x="48.2" y="658.6" class="catB" textLength="26.6" lengthAdjust="spacingAndGlyphs">Näive</text>
<text x="85.9" y="658.6" class="catB" textLength="35.1" lengthAdjust="spacingAndGlyphs">Primary</text>
<text x="84.9" y="673" class="catB" textLength="37.1" lengthAdjust="spacingAndGlyphs">effector</text>
<text x="157.2" y="658.6" class="catB" textLength="18.9" lengthAdjust="spacingAndGlyphs">Late</text>
<text x="148.2" y="673" class="catB" textLength="39.7" lengthAdjust="spacingAndGlyphs">memory</text>
<text x="190.7" y="658.6" class="catB" textLength="49.9" lengthAdjust="spacingAndGlyphs">Secondary</text>
<text x="197.4" y="673" class="catB" textLength="37.6" lengthAdjust="spacingAndGlyphs">effector</text>
<path d="M348.3 390.7V638.3M348.3 638.3H508M343.4 390.7H348.3M343.4 452.6H348.3M343.4 514.5H348.3M343.4 576.4H348.3M343.4 638.3H348.3M387.8 638.3V642M468.9 638.3V642" class="ax"/>
<text x="341.8" y="395.4" class="tC" text-anchor="end">20000</text>
<text x="341.8" y="457.3" class="tC" text-anchor="end">15000</text>
<text x="341.8" y="519.2" class="tC" text-anchor="end">10000</text>
<text x="341.8" y="581.1" class="tC" text-anchor="end">5000</text>
<text x="341.8" y="643.0" class="tC" text-anchor="end">0</text>
<circle cx="388.1" cy="413" r="2.85" class="cc"/>
<circle cx="388.1" cy="466.7" r="2.85" class="cc"/>
<circle cx="397.1" cy="477.9" r="2.85" class="cc"/>
<circle cx="387.8" cy="485.3" r="2.85" class="cc"/>
<circle cx="387.8" cy="500.4" r="2.85" class="cc"/>
<circle cx="397" cy="513.5" r="2.85" class="cc"/>
<circle cx="387.8" cy="521.5" r="2.85" class="cc"/>
<circle cx="397" cy="523.3" r="2.85" class="cc"/>
<circle cx="379.2" cy="528.4" r="2.85" class="cc"/>
<circle cx="387.8" cy="531.5" r="2.85" class="cc"/>
<circle cx="392.2" cy="531.5" r="2.85" class="cc"/>
<circle cx="370.3" cy="533.6" r="2.85" class="cc"/>
<circle cx="405.6" cy="535.4" r="2.85" class="cc"/>
<circle cx="379.2" cy="537.3" r="2.85" class="cc"/>
<circle cx="387.8" cy="540.7" r="2.85" class="cc"/>
<circle cx="397" cy="539.5" r="2.85" class="cc"/>
<circle cx="387.8" cy="551.4" r="2.85" class="cc"/>
<circle cx="370" cy="554.7" r="2.85" class="cc"/>
<circle cx="378.9" cy="556.25" r="2.85" class="cc"/>
<circle cx="396.6" cy="557" r="2.85" class="cc"/>
<circle cx="405.5" cy="555.5" r="2.85" class="cc"/>
<circle cx="387.5" cy="561" r="2.85" class="cc"/>
<circle cx="378.9" cy="570" r="2.85" class="cc"/>
<circle cx="387.5" cy="571.1" r="2.85" class="cc"/>
<circle cx="374.2" cy="574.2" r="2.85" class="cc"/>
<circle cx="383.6" cy="575.8" r="2.85" class="cc"/>
<circle cx="401.25" cy="574.2" r="2.85" class="cc"/>
<circle cx="410.2" cy="573.4" r="2.85" class="cc"/>
<circle cx="370" cy="579.4" r="2.85" class="cc"/>
<circle cx="378.9" cy="580" r="2.85" class="cc"/>
<circle cx="392.2" cy="577.8" r="2.85" class="cc"/>
<circle cx="387.5" cy="581.25" r="2.85" class="cc"/>
<circle cx="396.9" cy="580.5" r="2.85" class="cc"/>
<circle cx="405.5" cy="580" r="2.85" class="cc"/>
<circle cx="383.6" cy="582.8" r="2.85" class="cc"/>
<circle cx="392.2" cy="582.8" r="2.85" class="cc"/>
<circle cx="370" cy="587.5" r="2.85" class="cc"/>
<circle cx="378.9" cy="587.8" r="2.85" class="cc"/>
<circle cx="396.9" cy="587.8" r="2.85" class="cc"/>
<circle cx="405.5" cy="586" r="2.85" class="cc"/>
<circle cx="387.5" cy="590.6" r="2.85" class="cc"/>
<circle cx="383.6" cy="596.1" r="2.85" class="cc"/>
<circle cx="401.25" cy="595" r="2.85" class="cc"/>
<circle cx="370" cy="598.6" r="2.85" class="cc"/>
<circle cx="378.9" cy="599.7" r="2.85" class="cc"/>
<circle cx="392.2" cy="597" r="2.85" class="cc"/>
<circle cx="396.9" cy="599.7" r="2.85" class="cc"/>
<circle cx="405.5" cy="599.7" r="2.85" class="cc"/>
<circle cx="365.6" cy="602.5" r="2.85" class="cc"/>
<circle cx="410.2" cy="602.5" r="2.85" class="cc"/>
<circle cx="370" cy="606.5" r="2.85" class="cc"/>
<circle cx="378.9" cy="606.5" r="2.85" class="cc"/>
<circle cx="387.5" cy="606" r="2.85" class="cc"/>
<circle cx="392.2" cy="606.5" r="2.85" class="cc"/>
<circle cx="396.9" cy="606.5" r="2.85" class="cc"/>
<circle cx="405.5" cy="606" r="2.85" class="cc"/>
<circle cx="365.6" cy="612.7" r="2.85" class="cc"/>
<circle cx="374.2" cy="613.4" r="2.85" class="cc"/>
<circle cx="383.6" cy="611.9" r="2.85" class="cc"/>
<circle cx="387.5" cy="613.4" r="2.85" class="cc"/>
<circle cx="396.9" cy="611.9" r="2.85" class="cc"/>
<circle cx="401.5" cy="613.4" r="2.85" class="cc"/>
<circle cx="405.5" cy="614.2" r="2.85" class="cc"/>
<circle cx="410.2" cy="613.4" r="2.85" class="cc"/>
<circle cx="370" cy="618.1" r="2.85" class="cc"/>
<circle cx="378.9" cy="618.1" r="2.85" class="cc"/>
<circle cx="387.5" cy="618.8" r="2.85" class="cc"/>
<circle cx="392.2" cy="617.4" r="2.85" class="cc"/>
<circle cx="396.9" cy="618.1" r="2.85" class="cc"/>
<circle cx="401.25" cy="618.8" r="2.85" class="cc"/>
<circle cx="370" cy="623.6" r="2.85" class="cc"/>
<circle cx="374.2" cy="621.25" r="2.85" class="cc"/>
<circle cx="383.6" cy="622.8" r="2.85" class="cc"/>
<circle cx="392.2" cy="622.1" r="2.85" class="cc"/>
<circle cx="401.25" cy="622.8" r="2.85" class="cc"/>
<circle cx="405.5" cy="623.6" r="2.85" class="cc"/>
<circle cx="410.2" cy="621.5" r="2.85" class="cc"/>
<circle cx="365.6" cy="629" r="2.85" class="cc"/>
<circle cx="370" cy="627.5" r="2.85" class="cc"/>
<circle cx="378.9" cy="627.5" r="2.85" class="cc"/>
<circle cx="387.5" cy="628.3" r="2.85" class="cc"/>
<circle cx="396.9" cy="627.5" r="2.85" class="cc"/>
<circle cx="405.5" cy="628.3" r="2.85" class="cc"/>
<circle cx="410.2" cy="629" r="2.85" class="cc"/>
<circle cx="365.6" cy="633.4" r="2.85" class="cc"/>
<circle cx="374.2" cy="633.75" r="2.85" class="cc"/>
<circle cx="383.6" cy="633" r="2.85" class="cc"/>
<circle cx="388.3" cy="632.2" r="2.85" class="cc"/>
<circle cx="392.2" cy="634.5" r="2.85" class="cc"/>
<circle cx="401.6" cy="633" r="2.85" class="cc"/>
<circle cx="410.2" cy="633.75" r="2.85" class="cc"/>
<circle cx="370" cy="636.1" r="2.85" class="cc"/>
<circle cx="378.9" cy="636.1" r="2.85" class="cc"/>
<circle cx="387.5" cy="636.9" r="2.85" class="cc"/>
<circle cx="396.9" cy="636.9" r="2.85" class="cc"/>
<circle cx="405.5" cy="636.1" r="2.85" class="cc"/>
<rect x="466.30" y="614.90" width="5.2" height="5.2" class="sc"/>
<rect x="475.40" y="618.10" width="5.2" height="5.2" class="sc"/>
<rect x="457.20" y="626.20" width="5.2" height="5.2" class="sc"/>
<rect x="465.10" y="625.90" width="5.2" height="5.2" class="sc"/>
<rect x="467.50" y="626.60" width="5.2" height="5.2" class="sc"/>
<rect x="476.60" y="626.80" width="5.2" height="5.2" class="sc"/>
<rect x="444.10" y="631.00" width="5.2" height="5.2" class="sc"/>
<rect x="452.40" y="631.60" width="5.2" height="5.2" class="sc"/>
<rect x="488.70" y="631.00" width="5.2" height="5.2" class="sc"/>
<rect x="466.60" y="628.90" width="5.2" height="5.2" class="sc"/>
<rect x="446.40" y="634.60" width="5.2" height="5.2" class="sc"/>
<rect x="450.50" y="634.60" width="5.2" height="5.2" class="sc"/>
<rect x="454.60" y="634.60" width="5.2" height="5.2" class="sc"/>
<rect x="458.70" y="634.60" width="5.2" height="5.2" class="sc"/>
<rect x="462.80" y="634.60" width="5.2" height="5.2" class="sc"/>
<rect x="466.90" y="634.60" width="5.2" height="5.2" class="sc"/>
<rect x="471.00" y="634.60" width="5.2" height="5.2" class="sc"/>
<rect x="475.10" y="634.60" width="5.2" height="5.2" class="sc"/>
<rect x="479.20" y="634.60" width="5.2" height="5.2" class="sc"/>
<rect x="483.30" y="634.60" width="5.2" height="5.2" class="sc"/>
<rect x="487.40" y="634.60" width="5.2" height="5.2" class="sc"/>
<path d="M360.6 604.1H415.3M441.6 635.1H496.1" class="mc"/>
<path d="M389.3 397.3V393.5H471.3V397.3" class="br"/>
<path d="M422.20 379.50L422.20 384.70M419.95 380.80L424.45 383.40M424.45 380.80L419.95 383.40M429.30 379.50L429.30 384.70M427.05 380.80L431.55 383.40M431.55 380.80L427.05 383.40M436.40 379.50L436.40 384.70M434.15 380.80L438.65 383.40M438.65 380.80L434.15 383.40" class="st2"/>
<text x="262.8" y="372.5" class="pl">C</text>
<text transform="translate(293.4 652.6) rotate(-90)" class="lab" textLength="270.8" lengthAdjust="spacingAndGlyphs">Total ELISpot response (SFU/10<tspan dy="-5" font-size="9">6</tspan><tspan dy="5"> PBMC)</tspan></text>
<text x="364.7" y="665.3" class="catC" textLength="46.2" lengthAdjust="spacingAndGlyphs">Primary</text>
<text x="363.6" y="683" class="catC" textLength="47.6" lengthAdjust="spacingAndGlyphs">effector</text>
<text x="438.1" y="665.3" class="catC" textLength="63" lengthAdjust="spacingAndGlyphs">Secondary</text>
<text x="445.6" y="683" class="catC" textLength="48.5" lengthAdjust="spacingAndGlyphs">effector</text>
</svg></body></html>
